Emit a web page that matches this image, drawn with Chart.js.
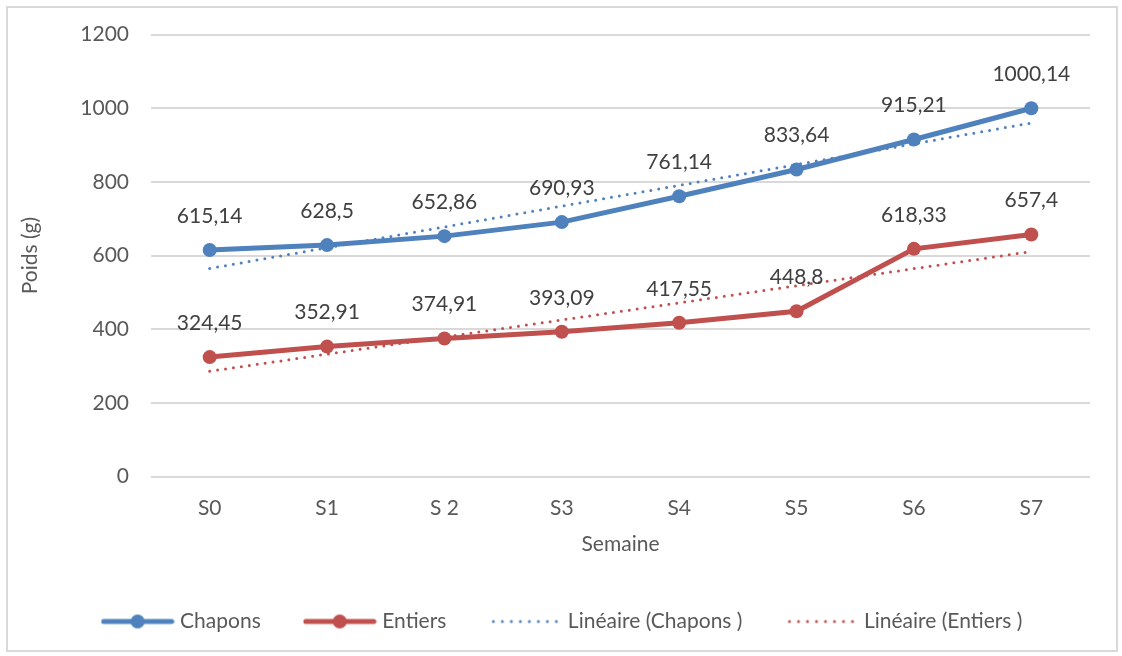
<!DOCTYPE html>
<html>
<head>
<meta charset="utf-8">
<script src="https://cdn.jsdelivr.net/npm/chart.js@4.4.1/dist/chart.umd.min.js"></script>
<style>
  html, body { margin: 0; padding: 0; background: #fff; }
  #cadre { position: absolute; left: 6px; top: 6px; width: 1108px; height: 642px; border: 2px solid #D9D9D9; }
  #graphique { position: absolute; left: 0; top: 0; }
</style>
</head>
<body>
<div id="cadre"></div>
<canvas id="graphique" width="1122" height="656"></canvas>
<script>
// Données
const semaines = ['S0', 'S1', 'S 2', 'S3', 'S4', 'S5', 'S6', 'S7'];
const chapons = [615.14, 628.5, 652.86, 690.93, 761.14, 833.64, 915.21, 1000.14];
const entiers = [324.45, 352.91, 374.91, 393.09, 417.55, 448.8, 618.33, 657.4];
// Courbes de tendance : valeurs lues aux extrémités (S0 et S7)
const tendanceChapons = [565, null, null, null, null, null, null, 960];
const tendanceEntiers = [286, null, null, null, null, null, null, 611];
const ticksY = [0, 200, 400, 600, 800, 1000, 1200];

const bleu = '#4F81BD';
const rouge = '#C0504D';
const police = 'Lato, "Open Sans", sans-serif';
const taille = 21;

// Petite image pour la légende (ligne + marqueur ou pointillés)
function iconeLegende(couleur, pointille) {
  const c = document.createElement('canvas');
  c.width = 74; c.height = 16;
  const ctx = c.getContext('2d');
  ctx.strokeStyle = couleur;
  ctx.fillStyle = couleur;
  ctx.lineCap = 'round';
  if (pointille) {
    ctx.lineWidth = 3;
    ctx.setLineDash([0, 9]);
    ctx.beginPath(); ctx.moveTo(5, 8); ctx.lineTo(70, 8); ctx.stroke();
  } else {
    ctx.lineWidth = 5;
    ctx.beginPath(); ctx.moveTo(3, 8); ctx.lineTo(71, 8); ctx.stroke();
    ctx.beginPath(); ctx.arc(37, 8, 7, 0, Math.PI * 2); ctx.fill();
  }
  return c;
}

// Étiquettes de données au-dessus des points
const etiquettes = {
  id: 'etiquettes',
  afterDatasetsDraw(chart) {
    const ctx = chart.ctx;
    ctx.save();
    ctx.font = taille + 'px ' + police;
    ctx.fillStyle = '#404040';
    ctx.textAlign = 'center';
    ctx.textBaseline = 'middle';
    [0, 1].forEach(i => {
      const meta = chart.getDatasetMeta(i);
      const valeurs = chart.data.datasets[i].data;
      meta.data.forEach((pt, j) => {
        ctx.fillText(String(valeurs[j]).replace('.', ','), pt.x, pt.y - 34);
      });
    });
    ctx.restore();
  }
};

// Légende centrée sur toute la largeur de l'image
const decalageLegende = {
  id: 'decalageLegende',
  afterLayout(chart) {
    chart.legend.left += 12;
    chart.legend.right += 12;
  }
};

const icones = [iconeLegende(bleu, false), iconeLegende(rouge, false), iconeLegende(bleu, true), iconeLegende(rouge, true)];

new Chart(document.getElementById('graphique'), {
  type: 'line',
  data: {
    labels: semaines,
    datasets: [
      { label: 'Chapons', data: chapons, borderColor: bleu, backgroundColor: bleu, borderWidth: 5,
        pointRadius: 7, pointHoverRadius: 7, pointBackgroundColor: bleu, pointBorderWidth: 0, tension: 0 },
      { label: 'Entiers', data: entiers, borderColor: rouge, backgroundColor: rouge, borderWidth: 5,
        pointRadius: 7, pointHoverRadius: 7, pointBackgroundColor: rouge, pointBorderWidth: 0, tension: 0 },
      { label: 'Linéaire (Chapons )', data: tendanceChapons, borderColor: bleu, borderWidth: 3,
        borderDash: [0, 8], borderCapStyle: 'round', pointRadius: 0, spanGaps: true },
      { label: 'Linéaire (Entiers )', data: tendanceEntiers, borderColor: rouge, borderWidth: 3,
        borderDash: [0, 8], borderCapStyle: 'round', pointRadius: 0, spanGaps: true }
    ]
  },
  options: {
    responsive: false,
    animation: false,
    events: [],
    layout: { padding: { left: 14, right: 32, top: 29, bottom: 14 } },
    plugins: {
      tooltip: { enabled: false },
      legend: {
        position: 'bottom',
        labels: {
          usePointStyle: true,
          pointStyleWidth: 64,
          boxHeight: 16,
          padding: 47,
          color: '#595959',
          font: { family: police, size: taille },
          generateLabels(chart) {
            return chart.data.datasets.map((ds, i) => ({
              text: ds.label, pointStyle: icones[i], datasetIndex: i,
              fontColor: '#595959', lineWidth: 0, strokeStyle: 'transparent', fillStyle: 'transparent'
            }));
          }
        }
      }
    },
    scales: {
      x: {
        offset: true,
        grid: { display: false },
        border: { display: false },
        ticks: { color: '#595959', font: { family: police, size: taille }, padding: 11 },
        title: { display: true, text: 'Semaine', color: '#595959', font: { family: police, size: taille }, padding: { top: 0, bottom: 7 } }
      },
      y: {
        min: 0, max: 1200,
        afterBuildTicks(scale) { scale.ticks = ticksY.map(v => ({ value: v })); },
        afterFit(scale) { scale.width = 137; },
        grid: { color: '#D9D9D9', lineWidth: 2, drawTicks: false },
        border: { display: false },
        ticks: { color: '#595959', font: { family: police, size: taille }, padding: 22, callback: v => String(v) },
        title: { display: true, text: 'Poids (g)', color: '#595959', font: { family: police, size: taille } }
      }
    }
  },
  plugins: [etiquettes, decalageLegende]
});
</script>
</body>
</html>
